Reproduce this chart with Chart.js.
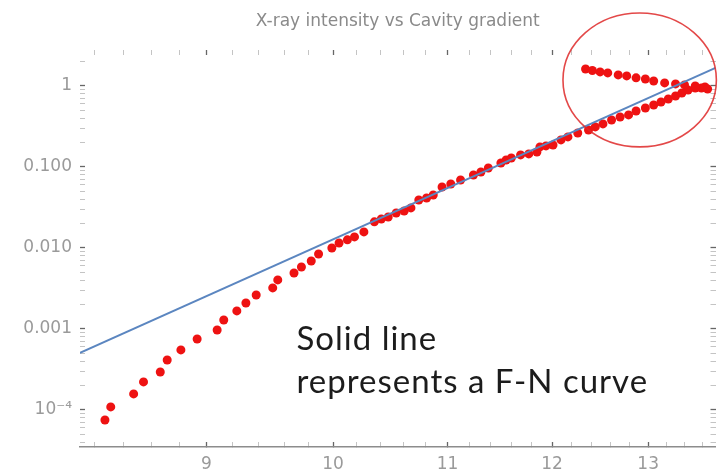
<!DOCTYPE html>
<html>
<head>
<meta charset="utf-8">
<script src="https://cdn.jsdelivr.net/npm/chart.js@4.4.1/dist/chart.umd.min.js"></script>
<style>
  html, body { margin: 0; padding: 0; background: #fff; }
  #wrap { width: 720px; height: 475px; }
</style>
</head>
<body>
<div id="wrap"><canvas id="xray-chart" width="720" height="475"></canvas></div>
<script>
// measured points: cavity gradient vs x-ray intensity (log-log)
var gradient = [
  8.27, 8.31, 8.47, 8.54, 8.66, 8.71, 8.81, 8.93, 9.08, 9.13,
  9.23, 9.30, 9.38, 9.51, 9.55, 9.68, 9.74, 9.82, 9.88, 9.99,
  10.05, 10.12, 10.18, 10.26, 10.35, 10.41, 10.47, 10.54, 10.61, 10.67,
  10.74, 10.81, 10.87, 10.95, 11.03, 11.12, 11.24, 11.31, 11.38, 11.50,
  11.55, 11.60, 11.69, 11.77, 11.85, 11.88, 11.94, 12.01, 12.09, 12.16,
  12.26, 12.37, 12.44, 12.52, 12.61, 12.70, 12.79, 12.87, 12.97, 13.06,
  13.14, 13.22, 13.30, 13.37, 13.44, 13.52, 13.59, 13.63, 13.66,
  // upper branch (inside the red circle)
  12.34, 12.41, 12.49, 12.57, 12.68, 12.77, 12.87, 12.97, 13.06, 13.18,
  13.30, 13.40, 13.52
];
var intensity = [
  7.53e-5, 1.09e-4, 1.58e-4, 2.22e-4, 2.94e-4, 4.14e-4, 5.51e-4, 7.53e-4, 9.72e-4, 1.29e-3,
  1.67e-3, 2.09e-3, 2.63e-3, 3.21e-3, 4.03e-3, 4.91e-3, 5.83e-3, 6.91e-3, 8.43e-3, 0.0100,
  0.0115, 0.0126, 0.0137, 0.0158, 0.0210, 0.0228, 0.0241, 0.0270, 0.0286, 0.0312,
  0.0391, 0.0414, 0.0451, 0.0566, 0.0617, 0.0691, 0.0796, 0.0868, 0.0972, 0.112,
  0.122, 0.129, 0.141, 0.145, 0.153, 0.177, 0.182, 0.187, 0.216, 0.235,
  0.263, 0.286, 0.312, 0.340, 0.380, 0.414, 0.439, 0.491, 0.535, 0.582,
  0.634, 0.691, 0.753, 0.820, 0.893, 0.945, 0.945, 0.972, 0.918,
  1.62, 1.55, 1.49, 1.45, 1.37, 1.33, 1.26, 1.22, 1.15, 1.09,
  1.06, 1.03, 1.00
];

// F-N fit line end points
var fnGradient = [8.1, 13.75];
var fnIntensity = [5.06e-4, 1.67];

var xMajorTicks = [9, 10, 11, 12, 13];
var xTickLabels = ['9', '10', '11', '12', '13'];
var xMinorTicks = [8.2, 8.4, 8.6, 8.8, 9.2, 9.4, 9.6, 9.8, 10.2, 10.4, 10.6, 10.8,
  11.2, 11.4, 11.6, 11.8, 12.2, 12.4, 12.6, 12.8, 13.2, 13.4, 13.6];
var yMajorTicks = [1e-4, 1e-3, 1e-2, 0.1, 1];
var yTickLabels = ['10\u207B\u2074', '0.001', '0.010', '0.100', '1'];

var xMin = 8.1, xMax = 13.75;
var yMin = 3.49e-5, yMax = 2.78;

// annotation: circle bounds (data units) and caption
var circleX = [12.11, 13.76];
var circleY = [0.177, 7.96];
var noteLines = ['Solid line', 'represents a F-N curve'];
var noteX = 9.70;
var noteY = [5.51e-4, 1.62e-4];

function xTicks() {
  var all = xMajorTicks.concat(xMinorTicks).sort(function(a, b) { return a - b; });
  return all.map(function(v) { return { value: v, major: xMajorTicks.indexOf(v) >= 0 }; });
}
function yTicks() {
  var all = [];
  yMajorTicks.forEach(function(m) {
    for (var k = 1; k < 10; k++) {
      var v = m * k;
      if (v >= yMin && v <= yMax) all.push({ value: v, major: k === 1 });
    }
  });
  // few minor ticks below 1e-4
  for (var k = 4; k < 10; k++) all.push({ value: k * 1e-5, major: false });
  all.sort(function(a, b) { return a.value - b.value; });
  return all;
}

var tickCol = function(c) { return c.tick && c.tick.major ? '#666' : '#c4c4c4'; };
var tickW = function(c) { return c.tick && c.tick.major ? 1.3 : 1; };
var labelFont = { family: 'DejaVu Sans', size: 17 };

var annotations = {
  id: 'annotations',
  afterDraw: function(chart) {
    var ctx = chart.ctx, xs = chart.scales.x, ys = chart.scales.y;
    var l = xs.getPixelForValue(circleX[0]), r = xs.getPixelForValue(circleX[1]);
    var b = ys.getPixelForValue(circleY[0]), t = ys.getPixelForValue(circleY[1]);
    ctx.save();
    ctx.strokeStyle = 'rgba(222,40,40,0.85)';
    ctx.lineWidth = 1.6;
    ctx.beginPath();
    ctx.ellipse((l + r) / 2, (t + b) / 2, (r - l) / 2, (b - t) / 2, 0, 0, Math.PI * 2);
    ctx.stroke();

    ctx.fillStyle = '#1c1c1c';
    ctx.font = '33px Lato';
    ctx.letterSpacing = '1px';
    ctx.textBaseline = 'alphabetic';
    var nx = xs.getPixelForValue(noteX);
    ctx.fillText(noteLines[0], nx, ys.getPixelForValue(noteY[0]));
    ctx.fillText(noteLines[1], nx, ys.getPixelForValue(noteY[1]));
    ctx.restore();
  }
};

var ctx = document.getElementById('xray-chart').getContext('2d');
var chart = new Chart(ctx, {
  type: 'scatter',
  data: {
    datasets: [{
      label: 'F-N curve',
      data: fnGradient.map(function(g, i) { return { x: g, y: fnIntensity[i] }; }),
      showLine: true,
      borderColor: '#5b86c0',
      borderWidth: 2,
      pointRadius: 0,
      fill: false
    }, {
      label: 'X-ray intensity',
      data: gradient.map(function(g, i) { return { x: g, y: intensity[i] }; }),
      backgroundColor: '#ee1212',
      borderWidth: 0,
      pointRadius: 4.5
    }]
  },
  options: {
    responsive: false,
    animation: false,
    devicePixelRatio: 1,
    layout: { padding: 0 },
    plugins: {
      legend: { display: false },
      tooltip: { enabled: false },
      title: {
        display: true,
        text: 'X-ray intensity vs Cavity gradient',
        color: '#8a8a8a',
        fullSize: false,
        font: { family: 'DejaVu Sans', size: 17, weight: 'normal' },
        padding: { top: 11, bottom: 5 }
      }
    },
    scales: {
      x: {
        type: 'logarithmic',
        position: 'bottom',
        min: xMin, max: xMax,
        afterBuildTicks: function(s) { s.ticks = xTicks(); },
        afterFit: function(s) { s.height = 28; },
        ticks: {
          autoSkip: false, maxRotation: 0, color: '#9a9a9a', font: labelFont, padding: 12,
          callback: function(v) { var i = xMajorTicks.indexOf(v); return i >= 0 ? xTickLabels[i] : ''; }
        },
        grid: { drawOnChartArea: false, drawTicks: true, tickLength: -5, tickColor: tickCol, tickWidth: tickW },
        border: { display: true, color: '#8c8c8c', width: 1.4 }
      },
      x2: {
        type: 'logarithmic',
        position: 'top',
        min: xMin, max: xMax,
        afterBuildTicks: function(s) { s.ticks = xTicks(); },
        afterFit: function(s) { s.height = 13.6; },
        ticks: { display: false },
        grid: { drawOnChartArea: false, drawTicks: true, tickLength: -5, tickColor: tickCol, tickWidth: tickW },
        border: { display: false }
      },
      y: {
        type: 'logarithmic',
        position: 'left',
        min: yMin, max: yMax,
        afterBuildTicks: function(s) { s.ticks = yTicks(); },
        afterFit: function(s) { s.width = 80; },
        ticks: {
          autoSkip: false, color: '#9a9a9a', font: labelFont, padding: 13,
          callback: function(v) {
            for (var i = 0; i < yMajorTicks.length; i++) {
              if (Math.abs(v / yMajorTicks[i] - 1) < 1e-6) return yTickLabels[i];
            }
            return '';
          }
        },
        grid: { drawOnChartArea: false, drawTicks: true, tickLength: -5, tickColor: tickCol, tickWidth: tickW },
        border: { display: false }
      },
      y2: {
        type: 'logarithmic',
        position: 'right',
        min: yMin, max: yMax,
        afterBuildTicks: function(s) { s.ticks = yTicks(); },
        afterFit: function(s) { s.width = 2; },
        ticks: { display: false },
        grid: { drawOnChartArea: false, drawTicks: true, tickLength: -5, tickColor: tickCol, tickWidth: tickW },
        border: { display: false }
      }
    }
  },
  plugins: [annotations]
});
</script>
</body>
</html>
